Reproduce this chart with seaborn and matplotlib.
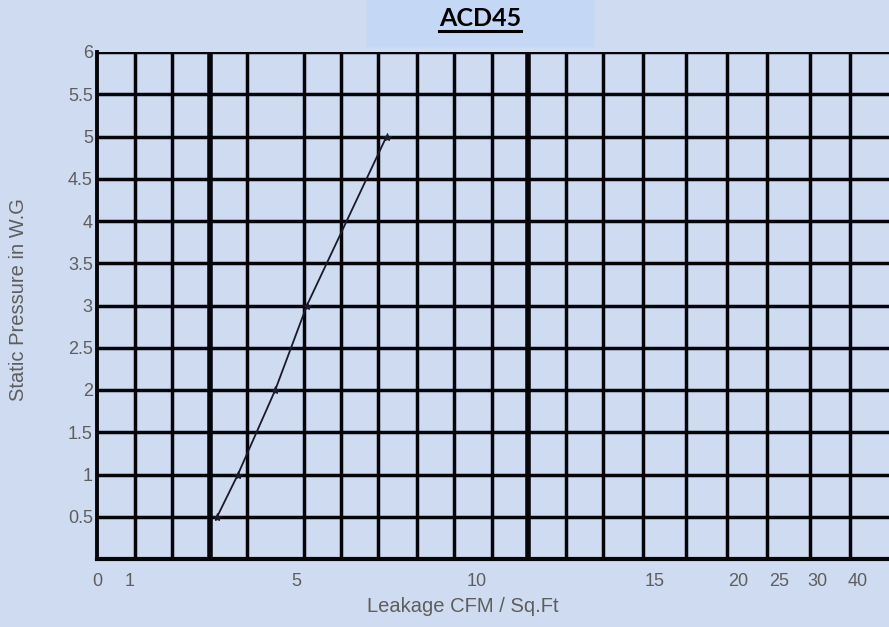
import numpy as np
import pandas as pd
import matplotlib
matplotlib.use("Agg")
import matplotlib.pyplot as plt
import seaborn as sns

# ---- data ----
leakage_cfm = [3.1, 3.6, 4.5, 5.3, 7.5]          # Leakage CFM / Sq.Ft
static_pressure = [0.5, 1.0, 2.0, 3.0, 5.0]      # Static pressure in W.G
x_tick_values = [0, 1, 5, 10, 15, 20, 25, 30, 40]
x_tick_labels = ["0", "1", "5", "10", "15", "20", "25", "30", "40"]
y_tick_values = [0.5, 1, 1.5, 2, 2.5, 3, 3.5, 4, 4.5, 5, 5.5, 6]
y_tick_labels = ["0.5", "1", "1.5", "2", "2.5", "3", "3.5", "4", "4.5", "5", "5.5", "6"]
title_text = "ACD45"

# ---- non-linear chart scale (value -> position on the printed grid) ----
x_tick_pos = [0, 33, 199, 380, 558, 641, 682, 720, 761]
grid_x_pos = [38, 75, 113, 150, 207, 244, 281, 320, 357, 395, 431, 469, 506,
              546, 589, 630, 670, 713, 753]
thick_x_pos = [113, 431]

def to_pos(v):
    return np.interp(v, x_tick_values, x_tick_pos)

bg = "#cfdbf1"
W, H = 889, 627
fig = plt.figure(figsize=(W / 100, H / 100), dpi=100, facecolor=bg)
ax = fig.add_axes([97 / W, (H - 559) / H, (889 - 97) / W, (559 - 52) / H])
ax.set_facecolor(bg)

ax.set_xlim(0, 792)
ax.set_ylim(0, 6)

# grid
for y in np.arange(0.5, 6.01, 0.5):
    ax.axhline(y, color="#05050a", lw=2.5, zorder=1)
for x in grid_x_pos:
    ax.axvline(x, color="#05050a", lw=4.0 if x in thick_x_pos else 2.5, zorder=1)

df = pd.DataFrame({"pos": to_pos(leakage_cfm), "p": static_pressure})
sns.lineplot(data=df, x="pos", y="p", ax=ax, color="#1a1a2a", lw=1.3,
             marker="*", markersize=6, markeredgecolor="#1a1a2a", zorder=3)

for s in ["top", "right"]:
    ax.spines[s].set_visible(False)
ax.spines["left"].set_linewidth(2.8)
ax.spines["bottom"].set_linewidth(3.0)
ax.spines["left"].set_color("#05050a")
ax.spines["bottom"].set_color("#05050a")

ax.set_xticks(to_pos(x_tick_values))
ax.set_xticklabels(x_tick_labels)
ax.set_yticks(y_tick_values)
ax.set_yticklabels(y_tick_labels)
ax.tick_params(axis="both", length=0, labelsize=13, labelcolor="#5e5e5e")
ax.tick_params(axis="x", pad=10)
ax.tick_params(axis="y", pad=3)
for t in ax.get_xticklabels() + ax.get_yticklabels():
    t.set_family("Liberation Sans")

ax.set_xlabel("Leakage CFM / Sq.Ft", fontsize=14.5, color="#5e5e5e",
              family="Liberation Sans")
ax.set_ylabel("Static Pressure in W.G", fontsize=14.5, color="#5e5e5e",
              family="Liberation Sans")
ax.xaxis.set_label_coords((463 - 97) / 792, -(606 - 559) / 507)
ax.xaxis.label.set_va("center")
ax.yaxis.set_label_coords(-(97 - 19) / 792, (559 - 300) / 507)
ax.yaxis.label.set_va("center")

# title box
fig.patches.append(plt.Rectangle((367 / W, (H - 46) / H), (593 - 367) / W, 46 / H,
                                 transform=fig.transFigure, color="#c4d8f6", zorder=0))
fig.text(480 / W, (H - 18) / H, title_text, ha="center", va="center",
         fontsize=18, fontweight="bold", family="Lato", color="black")
fig.add_artist(plt.Line2D([439 / W, 521 / W], [(H - 31) / H] * 2,
                          transform=fig.transFigure, color="black", lw=2.2))

fig.savefig("out.png", dpi=100, facecolor=bg)
